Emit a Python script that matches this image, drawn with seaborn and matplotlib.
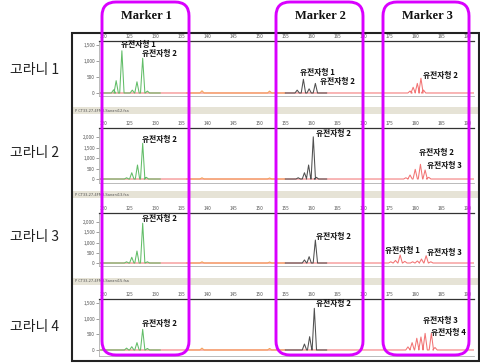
import matplotlib
matplotlib.use('Agg')
import numpy as np
import pandas as pd
import seaborn as sns
import matplotlib.pyplot as plt
from matplotlib.patches import FancyBboxPatch, Rectangle
from matplotlib.transforms import IdentityTransform

sns.set_theme(style='white')
plt.rcParams['font.family'] = ['Noto Sans CJK KR', 'DejaVu Sans']

# ---------------- data ----------------
samples = ['고라니 1', '고라니 2', '고라니 3', '고라니 4']
markers = ['Marker 1', 'Marker 2', 'Marker 3']
x_ticks = [120, 125, 130, 135, 140, 145, 150, 155, 160, 165, 170, 175, 180, 185, 190]
y_ticks = [[0, 500, 1000, 1500], [0, 500, 1000, 1500, 2000],
           [0, 500, 1000, 1500, 2000], [0, 500, 1000, 1500]]
y_lims = [(-94, 1625), (-190, 2430), (-146, 2440), (-192, 1628)]
file_names = ['P CT33-27-4FM3-Sanani12.fsa', 'P CT33-27-4FM3-Sanani13.fsa',
              'P CT33-27-4FM3-Sanani15.fsa']

# green dye (Marker 1) peaks: positions (bp) and heights (RFU)
green_pos = [[122.0, 122.5, 123.6, 125.6, 126.5, 127.6, 128.5],
             [124.5, 125.5, 126.6, 127.6, 128.3],
             [124.5, 125.5, 126.5, 127.6, 128.5],
             [124.5, 125.5, 126.5, 127.6, 128.5]]
green_h = [[100, 385, 1320, 90, 350, 1085, 60],
           [60, 300, 667, 1700, 80],
           [60, 280, 585, 1940, 60],
           [60, 105, 235, 660, 50]]
# black dye (Marker 2)
grey_pos = [[157.3, 158.5, 159.6, 160.8],
            [157.5, 158.7, 159.5, 160.4, 161.0],
            [158.7, 159.6, 160.8],
            [158.7, 159.7, 160.6]]
grey_h = [[90, 428, 130, 300],
          [60, 300, 667, 2010, 80],
          [150, 310, 1120],
          [190, 425, 1330]]
# red dye (Marker 3)
red_pos = [[179.0, 179.6, 180.4, 181.1, 181.6],
           [178.2, 179.0, 180.0, 181.0, 181.9, 182.6],
           [175.3, 176.2, 177.1, 178.0, 179.5, 180.4, 181.2, 182.1, 183.0],
           [178.6, 179.4, 180.3, 181.1, 181.9, 183.1, 183.8]]
red_h = [[60, 180, 300, 460, 90],
         [60, 190, 460, 700, 430, 80],
         [60, 125, 390, 80, 60, 100, 195, 356, 60],
         [100, 235, 375, 415, 530, 530, 80]]
# small orange size-standard bumps
orange_pos = [[139.0, 152.0], [139.0, 152.0], [139.0, 152.0], [139.0, 152.0]]
orange_h = [[70, 60], [60, 50], [60, 50], [60, 50]]

# allele labels: (text, x bp, y RFU)
allele_labels = [
    [('유전자형 1', 126.7, 1500), ('유전자형 2', 130.8, 1220), ('유전자형 1', 161.2, 625),
     ('유전자형 2', 165.0, 344), ('유전자형 2', 184.8, 560)],
    [('유전자형 2', 130.8, 1905), ('유전자형 2', 164.2, 2190), ('유전자형 2', 184.0, 1240),
     ('유전자형 3', 185.6, 620)],
    [('유전자형 2', 130.8, 2195), ('유전자형 2', 164.2, 1270), ('유전자형 1', 177.5, 634),
     ('유전자형 3', 185.6, 537)],
    [('유전자형 2', 130.8, 830), ('유전자형 2', 164.2, 1470), ('유전자형 3', 184.8, 926),
     ('유전자형 4', 186.3, 543)],
]

# ---------------- layout (pixels) ----------------
W, H = 480, 363
fig = plt.figure(figsize=(W / 100, H / 100), dpi=100)
fig.patch.set_facecolor('white')

def fx(px):
    return px / W

def fy(py):
    return 1 - py / H

panel_px = [(41, 96), (128, 183), (213, 266), (299, 356)]
label_y = [70, 153, 237, 327]
bars_px = [(107, 114), (191, 198), (278, 285)]
XMIN, XMAX = 119.2, 191.3
half_w = 0.42

palette = {'red': '#f27474', 'orange': '#f5a35a', 'green': '#62bd68', 'grey': '#505050'}

def trace(pos, hts, x0, x1):
    xs, ys = [x0], [0]
    for p, h in zip(pos, hts):
        xs += [p - half_w, p, p + half_w]
        ys += [0, h, 0]
    xs.append(x1)
    ys.append(0)
    return xs, ys

for i in range(4):
    top, bot = panel_px[i]
    ax = fig.add_axes([fx(99), fy(bot), fx(474 - 99), (bot - top) / H])
    rows = []
    specs = [('red', red_pos[i], red_h[i], XMIN, XMAX),
             ('orange', orange_pos[i], orange_h[i], 136, 155),
             ('green', green_pos[i], green_h[i], 119.5, 131),
             ('grey', grey_pos[i], grey_h[i], 155, 163)]
    for name, pos, hts, a, b in specs:
        xs, ys = trace(pos, hts, a, b)
        for k, (xv, yv) in enumerate(zip(xs, ys)):
            rows.append({'x': xv, 'y': yv, 'dye': name, 'order': k})
    df = pd.DataFrame(rows)
    for name in ['red', 'orange', 'green', 'grey']:
        sub = df[df['dye'] == name]
        sns.lineplot(data=sub, x='x', y='y', ax=ax, color=palette[name],
                     sort=False, estimator=None, lw=0.75, legend=False)
    ax.set_xlim(XMIN, XMAX)
    ax.set_ylim(*y_lims[i])
    ax.set_xlabel('')
    ax.set_ylabel('')
    ax.set_xticks(x_ticks)
    ax.set_xticklabels([str(t) for t in x_ticks])
    ax.xaxis.tick_top()
    ax.tick_params(axis='x', labelsize=3.4, length=0, pad=1.5, colors='#555555')
    ax.set_yticks(y_ticks[i])
    ax.set_yticklabels([f'{t:,}' for t in y_ticks[i]])
    ax.tick_params(axis='y', labelsize=3.4, length=2, width=0.4, pad=1,
                   colors='#555555', left=True)
    for side in ['left', 'bottom']:
        ax.spines[side].set_color('#b0b0b0')
        ax.spines[side].set_linewidth(0.6)
    ax.spines['top'].set_color('#333333')
    ax.spines['top'].set_linewidth(0.9)
    ax.spines['right'].set_visible(False)
    ax.set_facecolor('white')
    for txt, xv, yv in allele_labels[i]:
        ax.text(xv, yv, txt, ha='center', va='center', fontsize=5.6,
                fontweight='bold', color='#111111', clip_on=False, zorder=5)
    fig.text(fx(35), fy(label_y[i]), samples[i], ha='center', va='center',
             fontsize=10, color='#222222')

# file-name bars
for (t, b), name in zip(bars_px, file_names):
    fig.add_artist(Rectangle((73, H - b), 406, b - t, transform=IdentityTransform(),
                             facecolor='#e6e3d6', edgecolor='none', zorder=1))
    fig.text(fx(75), fy((t + b) / 2), name, fontsize=2.6, color='#555555',
             ha='left', va='center', family='DejaVu Sans')

# outer frame
fig.add_artist(Rectangle((72, H - 361), 407, 328, transform=IdentityTransform(),
                         facecolor='none', edgecolor='#222222', lw=1.5, zorder=3))

# magenta marker boxes
box_px = [(102, 189), (276, 363), (383, 469)]
for (x0, x1), m in zip(box_px, markers):
    fig.add_artist(FancyBboxPatch((x0, H - 355), x1 - x0, 353,
                                  boxstyle='round,pad=0,rounding_size=14',
                                  transform=IdentityTransform(), facecolor='none',
                                  edgecolor='#d900ff', lw=2.1, zorder=10))
    fig.text(fx((x0 + x1) / 2 + 1), fy(16), m, ha='center', va='center',
             fontsize=9, fontweight='bold', family='Liberation Serif', color='#111111')

fig.savefig('out.png', dpi=100)
